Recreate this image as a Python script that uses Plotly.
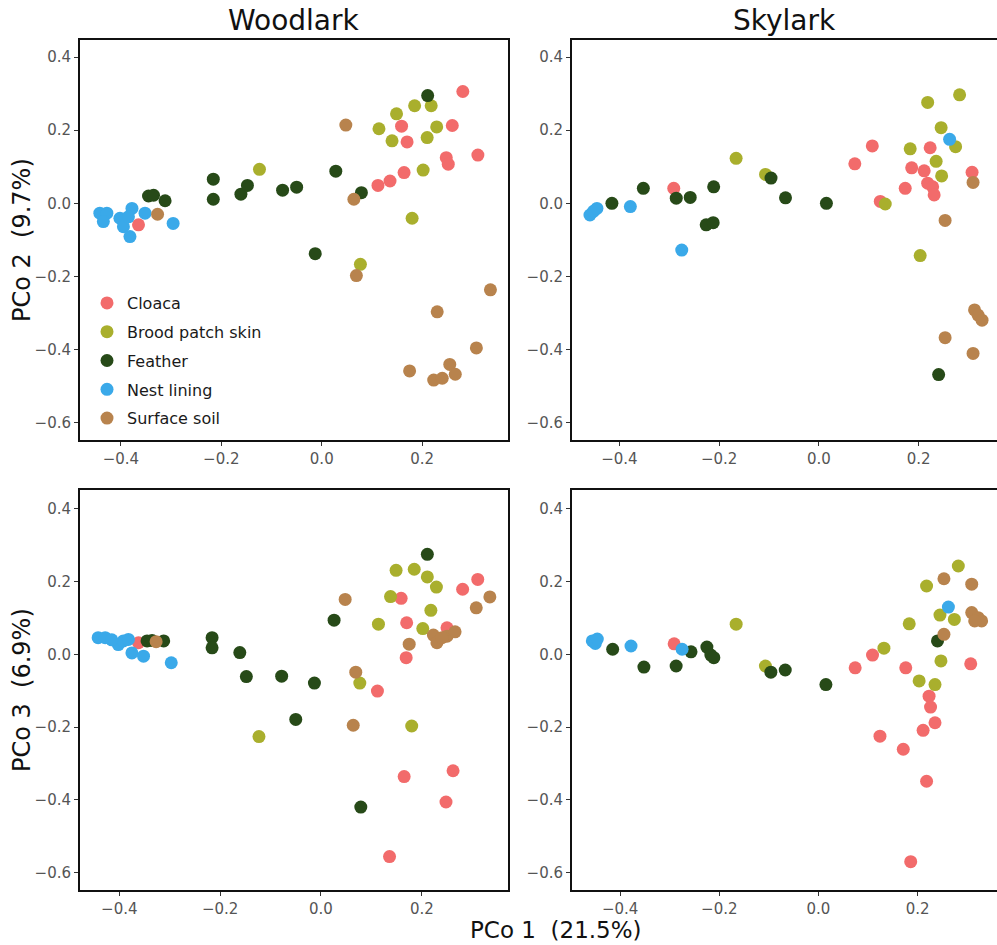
import plotly.graph_objects as go

# ---------------- data ----------------
groups = ["Cloaca", "Brood patch skin", "Feather", "Nest lining", "Surface soil"]
colors = ["#F26B6B", "#A9AF2D", "#274A18", "#3AA9E9", "#B8834D"]

panel_titles = ["Woodlark", "Skylark"]
x_ticks = [-0.4, -0.2, 0.0, 0.2]
y_ticks = [-0.6, -0.4, -0.2, 0.0, 0.2, 0.4]

# Woodlark: PCo1 vs PCo2
wl12_cloaca = [(0.281, 0.306), (0.159, 0.211), (0.260, 0.213), (0.170, 0.168), (0.311, 0.132),
               (0.248, 0.125), (0.252, 0.107), (0.164, 0.084), (0.136, 0.061), (0.112, 0.049),
               (-0.365, -0.059)]
wl12_brood = [(0.185, 0.267), (0.218, 0.267), (0.149, 0.245), (0.229, 0.209), (0.114, 0.204),
              (0.140, 0.171), (0.210, 0.180), (0.202, 0.091), (0.180, -0.041), (-0.124, 0.093),
              (0.077, -0.167)]
wl12_feather = [(0.211, 0.295), (-0.345, 0.020), (-0.335, 0.022), (-0.312, 0.007), (-0.216, 0.066),
                (-0.216, 0.011), (-0.161, 0.025), (-0.148, 0.049), (-0.078, 0.036), (-0.050, 0.044),
                (0.028, 0.088), (0.079, 0.029), (-0.013, -0.138)]
wl12_nest = [(-0.442, -0.027), (-0.428, -0.027), (-0.435, -0.050), (-0.402, -0.041), (-0.395, -0.064),
             (-0.378, -0.014), (-0.385, -0.037), (-0.352, -0.027), (-0.382, -0.091), (-0.296, -0.055)]
wl12_soil = [(0.048, 0.214), (0.064, 0.011), (-0.327, -0.030), (0.069, -0.198), (0.336, -0.237),
             (0.230, -0.297), (0.308, -0.396), (0.175, -0.459), (0.255, -0.441), (0.266, -0.468),
             (0.223, -0.484), (0.240, -0.479)]

# Skylark: PCo1 vs PCo2
sl12_cloaca = [(0.107, 0.157), (0.072, 0.108), (0.223, 0.152), (0.186, 0.097), (0.211, 0.089),
               (0.218, 0.055), (0.228, 0.045), (0.231, 0.023), (0.173, 0.041), (0.123, 0.005),
               (0.307, 0.085), (-0.291, 0.041)]
sl12_brood = [(0.282, 0.297), (0.218, 0.276), (0.245, 0.207), (0.183, 0.149), (0.274, 0.155),
              (0.235, 0.115), (0.246, 0.075), (-0.166, 0.123), (-0.107, 0.079), (0.133, -0.002),
              (0.203, -0.143)]
sl12_feather = [(-0.415, 0.000), (-0.352, 0.041), (-0.286, 0.014), (-0.258, 0.016), (-0.211, 0.045),
                (-0.226, -0.059), (-0.212, -0.053), (-0.096, 0.069), (-0.067, 0.015), (0.015, 0.000),
                (0.240, -0.469)]
sl12_nest = [(-0.459, -0.032), (-0.452, -0.022), (-0.445, -0.014), (-0.378, -0.009), (-0.275, -0.128),
             (0.262, 0.175)]
sl12_soil = [(0.309, 0.057), (0.253, -0.047), (0.312, -0.292), (0.319, -0.306), (0.327, -0.320),
             (0.253, -0.368), (0.309, -0.411)]

# Woodlark: PCo1 vs PCo3
wl13_cloaca = [(0.311, 0.206), (0.281, 0.179), (0.159, 0.154), (0.170, 0.087), (0.250, 0.073),
               (0.169, -0.009), (-0.362, 0.032), (0.112, -0.101), (0.165, -0.336), (0.262, -0.320),
               (0.248, -0.406), (0.136, -0.556)]
wl13_brood = [(0.149, 0.231), (0.185, 0.234), (0.211, 0.213), (0.229, 0.185), (0.138, 0.159),
              (0.218, 0.121), (0.114, 0.083), (0.202, 0.071), (0.077, -0.079), (-0.123, -0.226),
              (0.180, -0.197)]
wl13_feather = [(0.211, 0.275), (0.026, 0.094), (-0.345, 0.037), (-0.335, 0.038), (-0.312, 0.037),
                (-0.216, 0.046), (-0.216, 0.018), (-0.161, 0.005), (-0.148, -0.061), (-0.078, -0.060),
                (-0.013, -0.079), (-0.050, -0.179), (0.079, -0.420)]
wl13_nest = [(-0.442, 0.046), (-0.428, 0.046), (-0.402, 0.027), (-0.392, 0.037), (-0.382, 0.041),
             (-0.375, 0.004), (-0.352, -0.005), (-0.297, -0.023), (-0.415, 0.040)]
wl13_soil = [(0.048, 0.151), (0.335, 0.158), (0.308, 0.128), (0.175, 0.028), (0.223, 0.053),
             (0.230, 0.032), (0.250, 0.050), (0.266, 0.062), (0.240, 0.046), (0.069, -0.049),
             (-0.327, 0.035), (0.064, -0.195)]

# Skylark: PCo1 vs PCo3
sl13_cloaca = [(-0.291, 0.029), (0.109, -0.002), (0.074, -0.037), (0.176, -0.037), (0.307, -0.026),
               (0.223, -0.115), (0.226, -0.145), (0.235, -0.188), (0.211, -0.209), (0.124, -0.225),
               (0.171, -0.261), (0.218, -0.349), (0.186, -0.570)]
sl13_brood = [(0.282, 0.243), (0.218, 0.188), (0.245, 0.108), (0.274, 0.096), (0.183, 0.084),
              (-0.166, 0.083), (0.132, 0.017), (0.247, -0.018), (-0.107, -0.032), (0.203, -0.073),
              (0.235, -0.083)]
sl13_feather = [(-0.415, 0.014), (-0.352, -0.035), (-0.287, -0.032), (-0.257, 0.007), (-0.225, 0.020),
                (-0.217, -0.002), (-0.211, -0.009), (-0.096, -0.049), (-0.067, -0.043), (0.015, -0.083),
                (0.240, 0.037)]
sl13_nest = [(-0.456, 0.037), (-0.450, 0.030), (-0.446, 0.042), (-0.378, 0.023), (-0.275, 0.014),
             (0.262, 0.130)]
sl13_soil = [(0.253, 0.208), (0.309, 0.193), (0.253, 0.055), (0.309, 0.115), (0.322, 0.101),
             (0.329, 0.092), (0.315, 0.092)]

panels = [
    ("x", "y", [wl12_cloaca, wl12_brood, wl12_feather, wl12_nest, wl12_soil]),
    ("x2", "y2", [sl12_cloaca, sl12_brood, sl12_feather, sl12_nest, sl12_soil]),
    ("x3", "y3", [wl13_cloaca, wl13_brood, wl13_feather, wl13_nest, wl13_soil]),
    ("x4", "y4", [sl13_cloaca, sl13_brood, sl13_feather, sl13_nest, sl13_soil]),
]

# ---------------- figure ----------------
W, H = 997, 945
FONT = "DejaVu Sans"

fig = go.Figure()
for pi, (xa, ya, series) in enumerate(panels):
    for gi, pts in enumerate(series):
        fig.add_trace(go.Scatter(
            x=[p[0] for p in pts], y=[p[1] for p in pts],
            mode="markers", xaxis=xa, yaxis=ya,
            name=groups[gi], legendgroup=groups[gi],
            showlegend=(pi == 0),
            marker=dict(size=13, color=colors[gi], line=dict(width=0)),
        ))


def px_x(p):
    return p / W


def px_y(p):
    return 1 - p / H


def xaxis(left, right, rng, anchor):
    return dict(domain=[px_x(left), min(1.0, px_x(right))], range=rng, anchor=anchor,
                tickvals=x_ticks, tickformat=".1f", showgrid=False, zeroline=False,
                showline=True, linecolor="#111111", linewidth=2, mirror=True,
                ticks="outside", ticklen=4, tickwidth=1, tickcolor="#333333",
                tickfont=dict(family=FONT, size=15, color="#555555"))


def yaxis(top, bottom, rng, anchor, mirror):
    return dict(domain=[px_y(bottom), px_y(top)], range=rng, anchor=anchor,
                tickvals=y_ticks, tickformat=".1f", showgrid=False, zeroline=False,
                showline=True, linecolor="#111111", linewidth=2, mirror=mirror,
                ticks="outside", ticklen=4, tickwidth=1, tickcolor="#333333",
                tickfont=dict(family=FONT, size=15, color="#555555"))


fig.update_layout(
    width=W, height=H,
    margin=dict(l=0, r=0, t=0, b=0),
    paper_bgcolor="white", plot_bgcolor="white",
    font=dict(family=FONT, color="#111111"),
    xaxis=xaxis(80, 508, [-0.4815, 0.371], "y"),
    yaxis=yaxis(40, 440, [-0.648, 0.447], "x", True),
    xaxis2=xaxis(572, 997, [-0.495, 0.357], "y2"),
    yaxis2=yaxis(40, 440, [-0.648, 0.447], "x2", False),
    xaxis3=xaxis(80, 508, [-0.478, 0.371], "y3"),
    yaxis3=yaxis(490, 890, [-0.648, 0.452], "x3", True),
    xaxis4=xaxis(572, 997, [-0.497, 0.360], "y4"),
    yaxis4=yaxis(490, 890, [-0.648, 0.452], "x4", False),
    legend=dict(
        x=px_x(87), y=px_y(286), xanchor="left", yanchor="top",
        bgcolor="rgba(0,0,0,0)", borderwidth=0,
        font=dict(family=FONT, size=16, color="#1a1a1a"),
        traceorder="grouped", tracegroupgap=5,
    ),
    showlegend=True,
)

annotations = [
    dict(text=panel_titles[0], x=px_x(294), y=px_y(20), xref="paper", yref="paper",
         xanchor="center", yanchor="middle", showarrow=False,
         font=dict(family=FONT, size=28, color="#111111")),
    dict(text=panel_titles[1], x=px_x(784), y=px_y(20), xref="paper", yref="paper",
         xanchor="center", yanchor="middle", showarrow=False,
         font=dict(family=FONT, size=28, color="#111111")),
    dict(text="PCo 1\u00a0 (21.5%)", x=px_x(556), y=px_y(930), xref="paper", yref="paper",
         xanchor="center", yanchor="middle", showarrow=False,
         font=dict(family=FONT, size=23, color="#111111")),
    dict(text="PCo 2\u00a0 (9.7%)", x=px_x(22), y=px_y(240), xref="paper", yref="paper",
         xanchor="center", yanchor="middle", showarrow=False, textangle=-90,
         font=dict(family=FONT, size=24, color="#111111")),
    dict(text="PCo 3\u00a0 (6.9%)", x=px_x(22), y=px_y(690), xref="paper", yref="paper",
         xanchor="center", yanchor="middle", showarrow=False, textangle=-90,
         font=dict(family=FONT, size=24, color="#111111")),
]
fig.update_layout(annotations=annotations)

fig.write_html("out.html")
